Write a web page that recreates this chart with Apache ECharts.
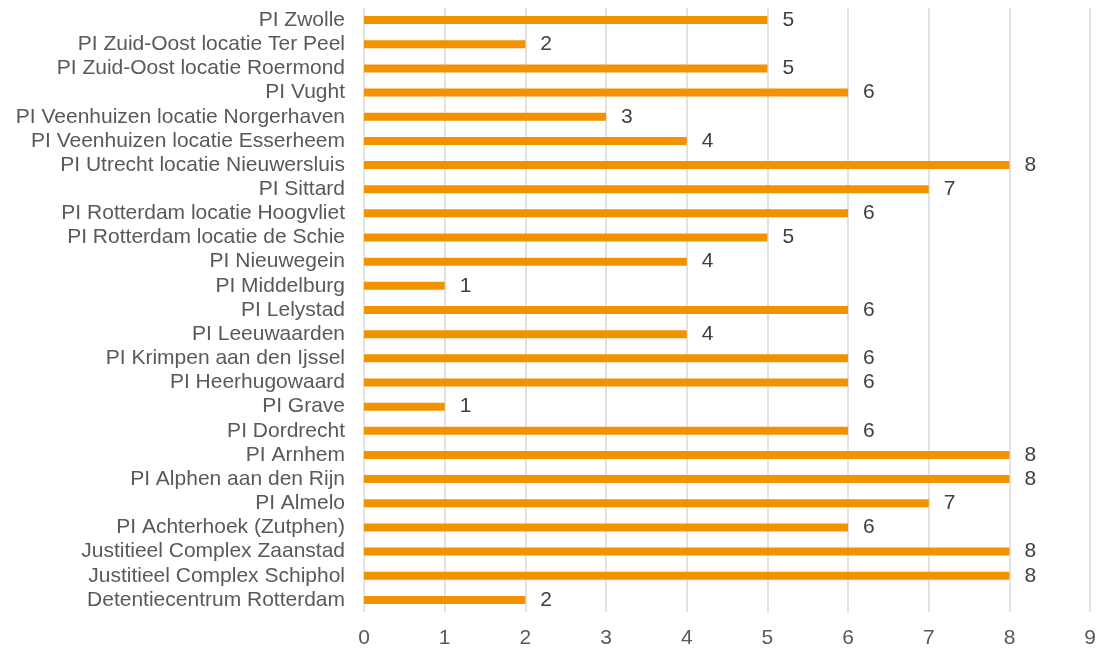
<!DOCTYPE html>
<html><head><meta charset="utf-8">
<script src="https://cdn.jsdelivr.net/npm/echarts@6/dist/echarts.min.js"></script>
<style>html,body{margin:0;padding:0;background:#fff}#c{width:1099px;height:650px}</style>
</head><body><div id="c"></div>
<script>
const categories = [
  "Detentiecentrum Rotterdam",
  "Justitieel Complex Schiphol",
  "Justitieel Complex Zaanstad",
  "PI Achterhoek (Zutphen)",
  "PI Almelo",
  "PI Alphen aan den Rijn",
  "PI Arnhem",
  "PI Dordrecht",
  "PI Grave",
  "PI Heerhugowaard",
  "PI Krimpen aan den Ijssel",
  "PI Leeuwaarden",
  "PI Lelystad",
  "PI Middelburg",
  "PI Nieuwegein",
  "PI Rotterdam locatie de Schie",
  "PI Rotterdam locatie Hoogvliet",
  "PI Sittard",
  "PI Utrecht locatie Nieuwersluis",
  "PI Veenhuizen locatie Esserheem",
  "PI Veenhuizen locatie Norgerhaven",
  "PI Vught",
  "PI Zuid-Oost locatie Roermond",
  "PI Zuid-Oost locatie Ter Peel",
  "PI Zwolle"
];
const values = [2, 8, 8, 6, 7, 8, 8, 6, 1, 6, 6, 4, 6, 1, 4, 5, 6, 7, 8, 4, 3, 6, 5, 2, 5];
const xTicks = { min: 0, max: 9, interval: 1 };

const chart = echarts.init(document.getElementById('c'));
chart.setOption({
  animation: false,
  textStyle: { fontFamily: 'Liberation Sans, Arial, sans-serif' },
  grid: { left: 364, right: 8, top: 8, bottom: 38, containLabel: false },
  xAxis: {
    type: 'value', min: xTicks.min, max: xTicks.max, interval: xTicks.interval,
    axisLine: { show: false }, axisTick: { show: false },
    axisLabel: { color: '#595959', fontSize: 21, margin: 16 },
    splitLine: { show: true, lineStyle: { color: '#D9D9D9', width: 1.5 } }
  },
  yAxis: {
    type: 'category', data: categories,
    axisLine: { show: false }, axisTick: { show: false },
    axisLabel: { color: '#595959', fontSize: 21, margin: 19, interval: 0 },
    splitLine: { show: false }
  },
  series: [{
    type: 'bar', data: values, barWidth: 8,
    itemStyle: { color: '#F39200' },
    label: { show: true, position: 'right', distance: 15, color: '#404040', fontSize: 21 }
  }]
});
</script></body></html>
